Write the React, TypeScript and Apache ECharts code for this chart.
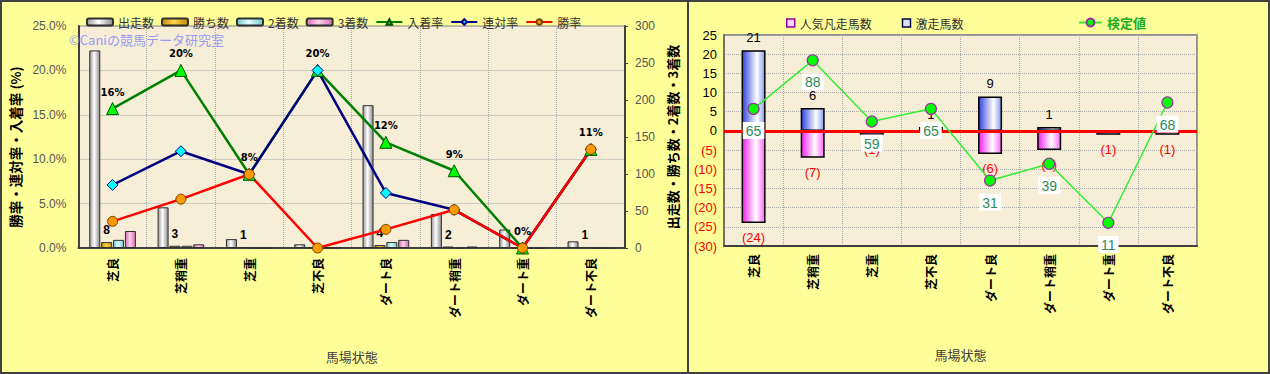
import React, { useEffect, useRef } from 'react';
import * as echarts from 'echarts';

// ---- data ----
const categories = ['芝良', '芝稍重', '芝重', '芝不良', 'ダート良', 'ダート稍重', 'ダート重', 'ダート不良'];
const runs = [267, 55, 12, 5, 193, 46, 25, 9];
const wins = [8, 3, 1, 0, 4, 2, 0, 1];
const seconds = [11, 3, 0, 1, 8, 0, 0, 0];
const thirds = [23, 5, 0, 0, 11, 2, 0, 0];
const placeRate = [15.7, 20.0, 8.3, 20.0, 11.9, 8.7, 0, 11.1];
const quinellaRate = [7.1, 10.9, 8.3, 20.0, 6.2, 4.3, 0, 11.1];
const winRate = [3.0, 5.5, 8.3, 0, 2.1, 4.3, 0, 11.1];

const popularFailed = [-24, -7, -1, 0, -6, -5, -1, -1];
const upsetRunners = [21, 6, 0, 1, 9, 1, 0, 0];
const testValue = [65, 88, 59, 65, 31, 39, 11, 68];

const JP = '"Noto Sans CJK JP", sans-serif';
const NUM = '"Liberation Sans", Arial, sans-serif';

const hGrad = (a: string, b: string, c: string, mid = 0.45) =>
  new echarts.graphic.LinearGradient(0, 0, 1, 0, [
    { offset: 0, color: a },
    { offset: mid, color: b },
    { offset: 1, color: c },
  ]);

function leftOption(): any {
  const bar = (name: string, data: number[], grad: any, extra: any = {}) => ({
    name,
    type: 'bar',
    yAxisIndex: 1,
    data,
    barWidth: 11,
    barGap: '8%',
    barCategoryGap: '30%',
    itemStyle: { color: grad, borderColor: '#303030', borderWidth: 1 },
    ...extra,
  });
  const line = (name: string, data: number[], color: string, symbol: string, size: number, fill: string, border: string, extra: any = {}) => ({
    name,
    type: 'line',
    yAxisIndex: 0,
    data,
    symbol,
    symbolSize: size,
    lineStyle: { color, width: 2.5 },
    itemStyle: { color: fill, borderColor: border, borderWidth: 1 },
    z: 5,
    ...extra,
  });
  return {
    animation: false,
    textStyle: { fontFamily: JP },
    legend: {
      top: 11,
      left: 81,
      itemWidth: 26,
      itemHeight: 7,
      itemGap: 7,
      textStyle: { fontSize: 12, color: '#333', fontFamily: JP },
      data: [
        { name: '出走数', icon: 'roundRect' },
        { name: '勝ち数', icon: 'roundRect' },
        { name: '2着数', icon: 'roundRect' },
        { name: '3着数', icon: 'roundRect' },
        '入着率',
        '連対率',
        '勝率',
      ],
    },
    grid: {
      left: 68,
      right: 64,
      top: 26,
      bottom: 126,
      show: true,
      backgroundColor: '#F7EED8',
      borderColor: '#8A8A8A',
      borderWidth: 1,
    },
    graphic: [
      {
        type: 'text',
        left: 69,
        top: 33,
        style: { text: '©Caniの競馬データ研究室', fill: '#9A9AF0', font: '13px "Noto Sans CJK JP", sans-serif' },
        z: 10,
      },
    ],
    xAxis: {
      type: 'category',
      data: categories,
      axisLine: { lineStyle: { color: '#404040', width: 2 } },
      axisTick: { show: false },
      axisLabel: { rotate: 90, fontSize: 12, fontWeight: 'bold', color: '#000', margin: 10, fontFamily: JP },
      splitLine: { show: true, interval: 0, lineStyle: { color: '#A8A8A8', type: 'dotted' } },
      name: '馬場状態',
      nameLocation: 'middle',
      nameGap: 102,
      nameTextStyle: { fontSize: 13, color: '#404040', fontFamily: JP },
    },
    yAxis: [
      {
        type: 'value',
        min: 0,
        max: 25,
        interval: 5,
        axisLabel: { formatter: (v: number) => v.toFixed(1) + '%', fontFamily: NUM, fontSize: 12, color: '#555', margin: 12 },
        axisLine: { show: true, lineStyle: { color: '#404040', width: 2 } },
        axisTick: { show: false },
        splitLine: { show: true, lineStyle: { color: '#A8A8A8', type: 'dotted' } },
        name: '勝率・連対率・入着率 (%)',
        nameLocation: 'middle',
        nameGap: 50,
        nameTextStyle: { fontSize: 13.5, fontWeight: 'bold', color: '#000', fontFamily: JP, padding: [0, 0, 0, -20] },
      },
      {
        type: 'value',
        min: 0,
        max: 300,
        interval: 50,
        position: 'right',
        axisLabel: { fontFamily: NUM, fontSize: 12, color: '#555', margin: 10 },
        axisLine: { show: true, lineStyle: { color: '#404040', width: 2 } },
        axisTick: { show: true, length: 3, lineStyle: { color: '#404040' } },
        splitLine: { show: false },
        name: '出走数・勝ち数・2着数・3着数',
        nameLocation: 'middle',
        nameRotate: 90,
        nameGap: 38,
        nameTextStyle: { fontSize: 13, fontWeight: 'bold', color: '#000', fontFamily: JP },
      },
    ],
    series: [
      bar('出走数', runs, hGrad('#9A9A9A', '#FFFFFF', '#8A8A8A')),
      bar('勝ち数', wins, hGrad('#C08A00', '#FFD54A', '#C08A00'), {
        label: {
          show: true,
          position: 'top',
          distance: 6,
          color: '#000',
          fontWeight: 'bold',
          fontSize: 12,
          fontFamily: NUM,
          formatter: (p: any) => (p.value > 0 ? String(p.value) : ''),
        },
      }),
      bar('2着数', seconds, hGrad('#70C8C8', '#E6FFFF', '#70C8C8')),
      bar('3着数', thirds, hGrad('#D070B0', '#FFD0EC', '#D070B0')),
      line('入着率', placeRate, '#008000', 'triangle', 12, '#00FF00', '#005000', {
        label: {
          show: true,
          position: 'top',
          distance: 5,
          color: '#000',
          fontWeight: 'bold',
          fontSize: 10,
          fontFamily: '"DejaVu Sans", sans-serif',
          formatter: (p: any) => Math.round(p.value) + '%',
        },
      }),
      line('連対率', quinellaRate, '#000080', 'diamond', 11, '#00FFFF', '#000080'),
      line('勝率', winRate, '#FF0000', 'circle', 10, '#FF9900', '#7A4000'),
    ],
  };
}

function rightOption(): any {
  return {
    animation: false,
    textStyle: { fontFamily: JP },
    legend: [
      {
        top: 12,
        left: 92,
        itemWidth: 8,
        itemHeight: 8,
        itemGap: 30,
        textStyle: { fontSize: 12, color: '#333', fontFamily: JP },
        data: [
          { name: '人気凡走馬数', icon: 'rect', itemStyle: { color: '#FFD8FF', borderColor: '#990099', borderWidth: 1.5 } },
          { name: '激走馬数', icon: 'rect', itemStyle: { color: '#D8E4FF', borderColor: '#000040', borderWidth: 1.5 } },
        ],
      },
      {
        top: 11,
        left: 384,
        itemWidth: 23,
        itemHeight: 10,
        textStyle: { fontSize: 13, fontWeight: 'bold', color: '#22AA22', fontFamily: JP },
        data: ['検定値'],
      },
    ],
    grid: {
      left: 35,
      right: 73,
      top: 35,
      bottom: 128,
      show: true,
      backgroundColor: '#F7EED8',
      borderColor: '#909090',
      borderWidth: 2,
    },
    xAxis: {
      type: 'category',
      data: categories,
      axisLine: { onZero: false, lineStyle: { color: '#404040', width: 2 } },
      axisTick: { show: false },
      axisLabel: { rotate: 90, fontSize: 12, fontWeight: 'bold', color: '#000', margin: 8, fontFamily: JP },
      splitLine: { show: true, interval: 0, lineStyle: { color: '#A8A8A8', type: 'dotted' } },
      name: '馬場状態',
      nameLocation: 'middle',
      nameGap: 102,
      nameTextStyle: { fontSize: 13, color: '#404040', fontFamily: JP },
    },
    yAxis: [
      {
        type: 'value',
        min: -30,
        max: 25,
        interval: 5,
        axisLabel: {
          fontFamily: NUM,
          fontSize: 13,
          margin: 7,
          formatter: (v: number) => (v < 0 ? `(${-v})` : String(v)),
          color: (v: any) => (Number(v) < 0 ? '#FF0000' : '#000'),
        },
        axisLine: { show: true, lineStyle: { color: '#707070', width: 2 } },
        axisTick: { show: false },
        splitLine: { show: true, lineStyle: { color: '#A8A8A8', type: 'dotted' } },
      },
      { type: 'value', min: 0, max: 100, show: false, splitLine: { show: false } },
    ],
    series: [
      {
        name: '人気凡走馬数',
        type: 'bar',
        data: popularFailed,
        barWidth: 24,
        barGap: '-100%',
        itemStyle: { color: hGrad('#EE22EE', '#FFFFFF', '#FF66FF', 0.6), borderColor: '#000', borderWidth: 1.5 },
        label: {
          show: true,
          position: 'bottom',
          distance: 8,
          color: '#FF0000',
          fontSize: 13,
          fontFamily: NUM,
          formatter: (p: any) => (p.value < 0 ? `(${-p.value})` : ''),
        },
      },
      {
        name: '激走馬数',
        type: 'bar',
        data: upsetRunners,
        barWidth: 24,
        barGap: '-100%',
        itemStyle: { color: hGrad('#3344DD', '#FFFFFF', '#8899EE', 0.65), borderColor: '#000', borderWidth: 1.5 },
        label: {
          show: true,
          position: 'top',
          distance: 6,
          color: '#000',
          fontSize: 13,
          fontFamily: NUM,
          formatter: (p: any) => (p.value > 0 ? String(p.value) : ''),
        },
        markLine: {
          silent: true,
          symbol: ['none', 'none'],
          label: { show: false },
          lineStyle: { color: '#FF0000', width: 3, type: 'solid' },
          data: [{ yAxis: 0 }],
        },
      },
      {
        name: '検定値',
        type: 'line',
        yAxisIndex: 1,
        data: testValue,
        symbol: 'circle',
        symbolSize: 11,
        z: 10,
        lineStyle: { color: '#33EE33', width: 1.5 },
        itemStyle: { color: '#00FF00', borderColor: '#993399', borderWidth: 1.2 },
        label: {
          show: true,
          position: 'bottom',
          distance: 7,
          color: '#2E8B57',
          fontSize: 14,
          fontFamily: NUM,
          backgroundColor: '#FFFFFF',
          padding: [2, 3, 1, 3],
        },
      },
    ],
  };
}

export default function App() {
  const leftRef = useRef<HTMLDivElement>(null);
  const rightRef = useRef<HTMLDivElement>(null);

  useEffect(() => {
    const l = echarts.init(leftRef.current!, undefined, { renderer: 'svg' });
    const r = echarts.init(rightRef.current!, undefined, { renderer: 'svg' });
    l.setOption(leftOption());
    r.setOption(rightOption());
    return () => {
      l.dispose();
      r.dispose();
    };
  }, []);

  return (
    <div style={{ position: 'fixed', left: 0, top: 0, width: 1270, height: 374, background: '#FFFF99', overflow: 'hidden' }}>
      <div ref={leftRef} style={{ position: 'absolute', left: 0, top: 0, width: 689, height: 374 }} />
      <div ref={rightRef} style={{ position: 'absolute', left: 689, top: 0, width: 581, height: 374 }} />
      <div
        style={{
          position: 'absolute',
          left: 0,
          top: 0,
          width: 1270,
          height: 374,
          boxSizing: 'border-box',
          border: '2px solid #404040',
          pointerEvents: 'none',
        }}
      />
      <div style={{ position: 'absolute', left: 687, top: 0, width: 2, height: 374, background: '#404040', pointerEvents: 'none' }} />
    </div>
  );
}
